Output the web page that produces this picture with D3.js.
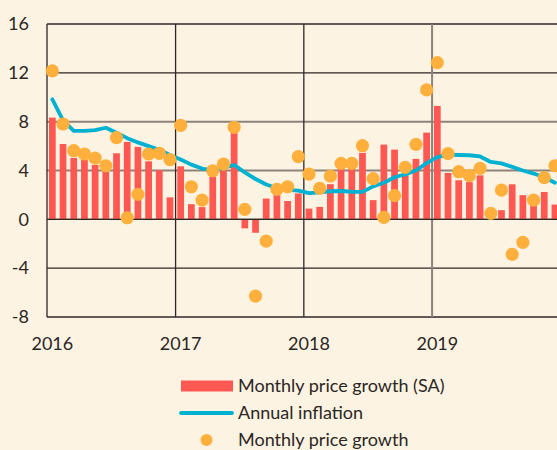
<!DOCTYPE html>
<html>
<head>
<meta charset="utf-8">
<script src="https://cdn.jsdelivr.net/npm/d3@7"></script>
<style>
  html, body { margin: 0; padding: 0; background: #FDF3E2; }
  svg { display: block; }
  text { font-family: Lato, "Open Sans", sans-serif; fill: #2b2624; }
</style>
</head>
<body>
<svg id="chart" width="557" height="450"></svg>
<script>
// Monthly house price data, Jan 2016 – Dec 2019
const months = d3.range(48).map(i => {
  const yr = 2016 + Math.floor(i / 12), m = (i % 12) + 1;
  return `${yr}-${String(m).padStart(2, "0")}`;
});

// Monthly price growth, seasonally adjusted (bars)
const growthSA = [
  8.33, 6.17, 5.03, 4.86, 4.45, 4.2, 5.41, 6.34, 5.93, 4.75, 4.03, 1.8,
  4.34, 1.24, 1.0, 3.5, 4.0, 7.1, -0.74, -1.1, 1.7, 2.2, 1.5, 2.12,
  0.88, 1.02, 2.88, 4.4, 4.4, 5.44, 1.57, 6.12, 5.71, 3.6, 4.95, 7.1,
  9.29, 3.8, 3.2, 3.05, 3.6, 0.4, 0.75, 2.87, 1.98, 1.2, 2.24, 1.21
];

// Monthly price growth, not adjusted (dots)
const growth = [
  12.16, 7.81, 5.62, 5.35, 5.02, 4.39, 6.69, 0.13, 2.05, 5.35, 5.41, 4.89,
  7.7, 2.67, 1.58, 3.98, 4.53, 7.54, 0.82, -6.29, -1.78, 2.46, 2.67, 5.13,
  3.71, 2.54, 3.55, 4.59, 4.59, 6.03, 3.33, 0.16, 1.94, 4.26, 6.14, 10.6,
  12.84, 5.38, 3.9, 3.58, 4.18, 0.49, 2.4, -2.87, -1.89, 1.58, 3.41, 4.39
];

// Annual inflation (line)
const annual = [
  9.83, 8.1, 7.24, 7.24, 7.3, 7.5, 7.1, 6.65, 6.3, 6.0, 5.7, 5.27,
  4.9, 4.48, 4.16, 4.02, 4.22, 4.45, 3.85, 3.3, 2.85, 2.55, 2.42, 2.35,
  2.15, 2.2, 2.3, 2.32, 2.26, 2.25, 2.7, 3.0, 3.45, 3.68, 4.0, 4.6,
  5.1, 5.3, 5.27, 5.25, 5.15, 4.7, 4.58, 4.3, 4.0, 3.75, 3.45, 3.0
];

const yTicks = [-8, -4, 0, 4, 8, 12, 16];
const yearTicks = [2016, 2017, 2018, 2019];

const legendItems = [
  { kind: "bar", label: "Monthly price growth (SA)" },
  { kind: "line", label: "Annual inflation" },
  { kind: "dot", label: "Monthly price growth" }
];

const colors = { bar: "#FF5752", line: "#00B1D2", dot: "#FFB03C",
                 gridDark: "#2e2724", gridSoft: "#8d837a" };

const svg = d3.select("#chart");
const plotLeft = 47, plotRight = 560.3, plotTop = 24, plotBottom = 317;

const x = d3.scaleBand().domain(months).range([plotLeft, plotRight])
  .paddingInner(0.37).paddingOuter(0.185);
const xTime = d3.scaleTime()
  .domain([new Date(2016, 0, 1), new Date(2020, 0, 1)]).range([plotLeft, plotRight]);
const y = d3.scaleLinear().domain([-8, 16]).range([plotBottom, plotTop]);

const cx = i => x(months[i]) + x.bandwidth() / 2;

// horizontal gridlines
const softY = new Set([4, 8]);
svg.append("g").selectAll("line").data(yTicks).join("line")
  .attr("x1", plotLeft).attr("x2", 557)
  .attr("y1", d => y(d)).attr("y2", d => y(d))
  .attr("stroke", d => softY.has(d) ? colors.gridSoft : colors.gridDark)
  .attr("stroke-width", d => softY.has(d) ? 2 : 1.3);

// vertical gridlines at year starts
svg.append("g").selectAll("line").data(yearTicks).join("line")
  .attr("x1", d => xTime(new Date(d, 0, 1))).attr("x2", d => xTime(new Date(d, 0, 1)))
  .attr("y1", plotTop).attr("y2", plotBottom)
  .attr("stroke", d => d === 2019 ? colors.gridSoft : colors.gridDark)
  .attr("stroke-width", d => d === 2019 ? 2 : 1.3);

// y-axis labels
svg.append("g").selectAll("text").data(yTicks).join("text")
  .attr("x", 29).attr("y", d => y(d)).attr("dy", "0.35em")
  .attr("text-anchor", "end").attr("font-size", 18)
  .text(d => d);

// x-axis labels, centred on January
svg.append("g").selectAll("text").data(yearTicks).join("text")
  .attr("x", d => cx(months.indexOf(`${d}-01`))).attr("y", 350)
  .attr("text-anchor", "middle").attr("font-size", 18)
  .text(d => d);

// bars
svg.append("g").selectAll("rect").data(growthSA).join("rect")
  .attr("x", (d, i) => x(months[i]))
  .attr("width", x.bandwidth())
  .attr("y", d => y(Math.max(0, d)))
  .attr("height", d => Math.abs(y(d) - y(0)))
  .attr("fill", colors.bar);

// zero line above bars
svg.append("line").attr("x1", plotLeft).attr("x2", 557)
  .attr("y1", y(0)).attr("y2", y(0))
  .attr("stroke", colors.gridDark).attr("stroke-width", 1.3);

// annual inflation line
const line = d3.line().x((d, i) => cx(i)).y(d => y(d)).curve(d3.curveLinear);
svg.append("path").datum(annual)
  .attr("d", line).attr("fill", "none")
  .attr("stroke", colors.line).attr("stroke-width", 3.8)
  .attr("stroke-linejoin", "round").attr("stroke-linecap", "round");

// monthly growth dots
svg.append("g").selectAll("circle").data(growth).join("circle")
  .attr("cx", (d, i) => cx(i)).attr("cy", d => y(d)).attr("r", 6.6)
  .attr("fill", colors.dot);

// legend
const lg = svg.append("g");
const rowY = [386, 413, 440];
legendItems.forEach((it, k) => {
  const yy = rowY[k];
  if (it.kind === "bar") {
    lg.append("rect").attr("x", 181).attr("y", yy - 5.5).attr("width", 52).attr("height", 11)
      .attr("fill", colors.bar);
  } else if (it.kind === "line") {
    lg.append("line").attr("x1", 181).attr("x2", 232).attr("y1", yy).attr("y2", yy)
      .attr("stroke", colors.line).attr("stroke-width", 3.8).attr("stroke-linecap", "round");
  } else {
    lg.append("circle").attr("cx", 206.5).attr("cy", yy).attr("r", 6)
      .attr("fill", colors.dot);
  }
  lg.append("text").attr("x", 238).attr("y", yy + 6)
    .attr("font-size", 18).text(it.label);
});
</script>
</body>
</html>
